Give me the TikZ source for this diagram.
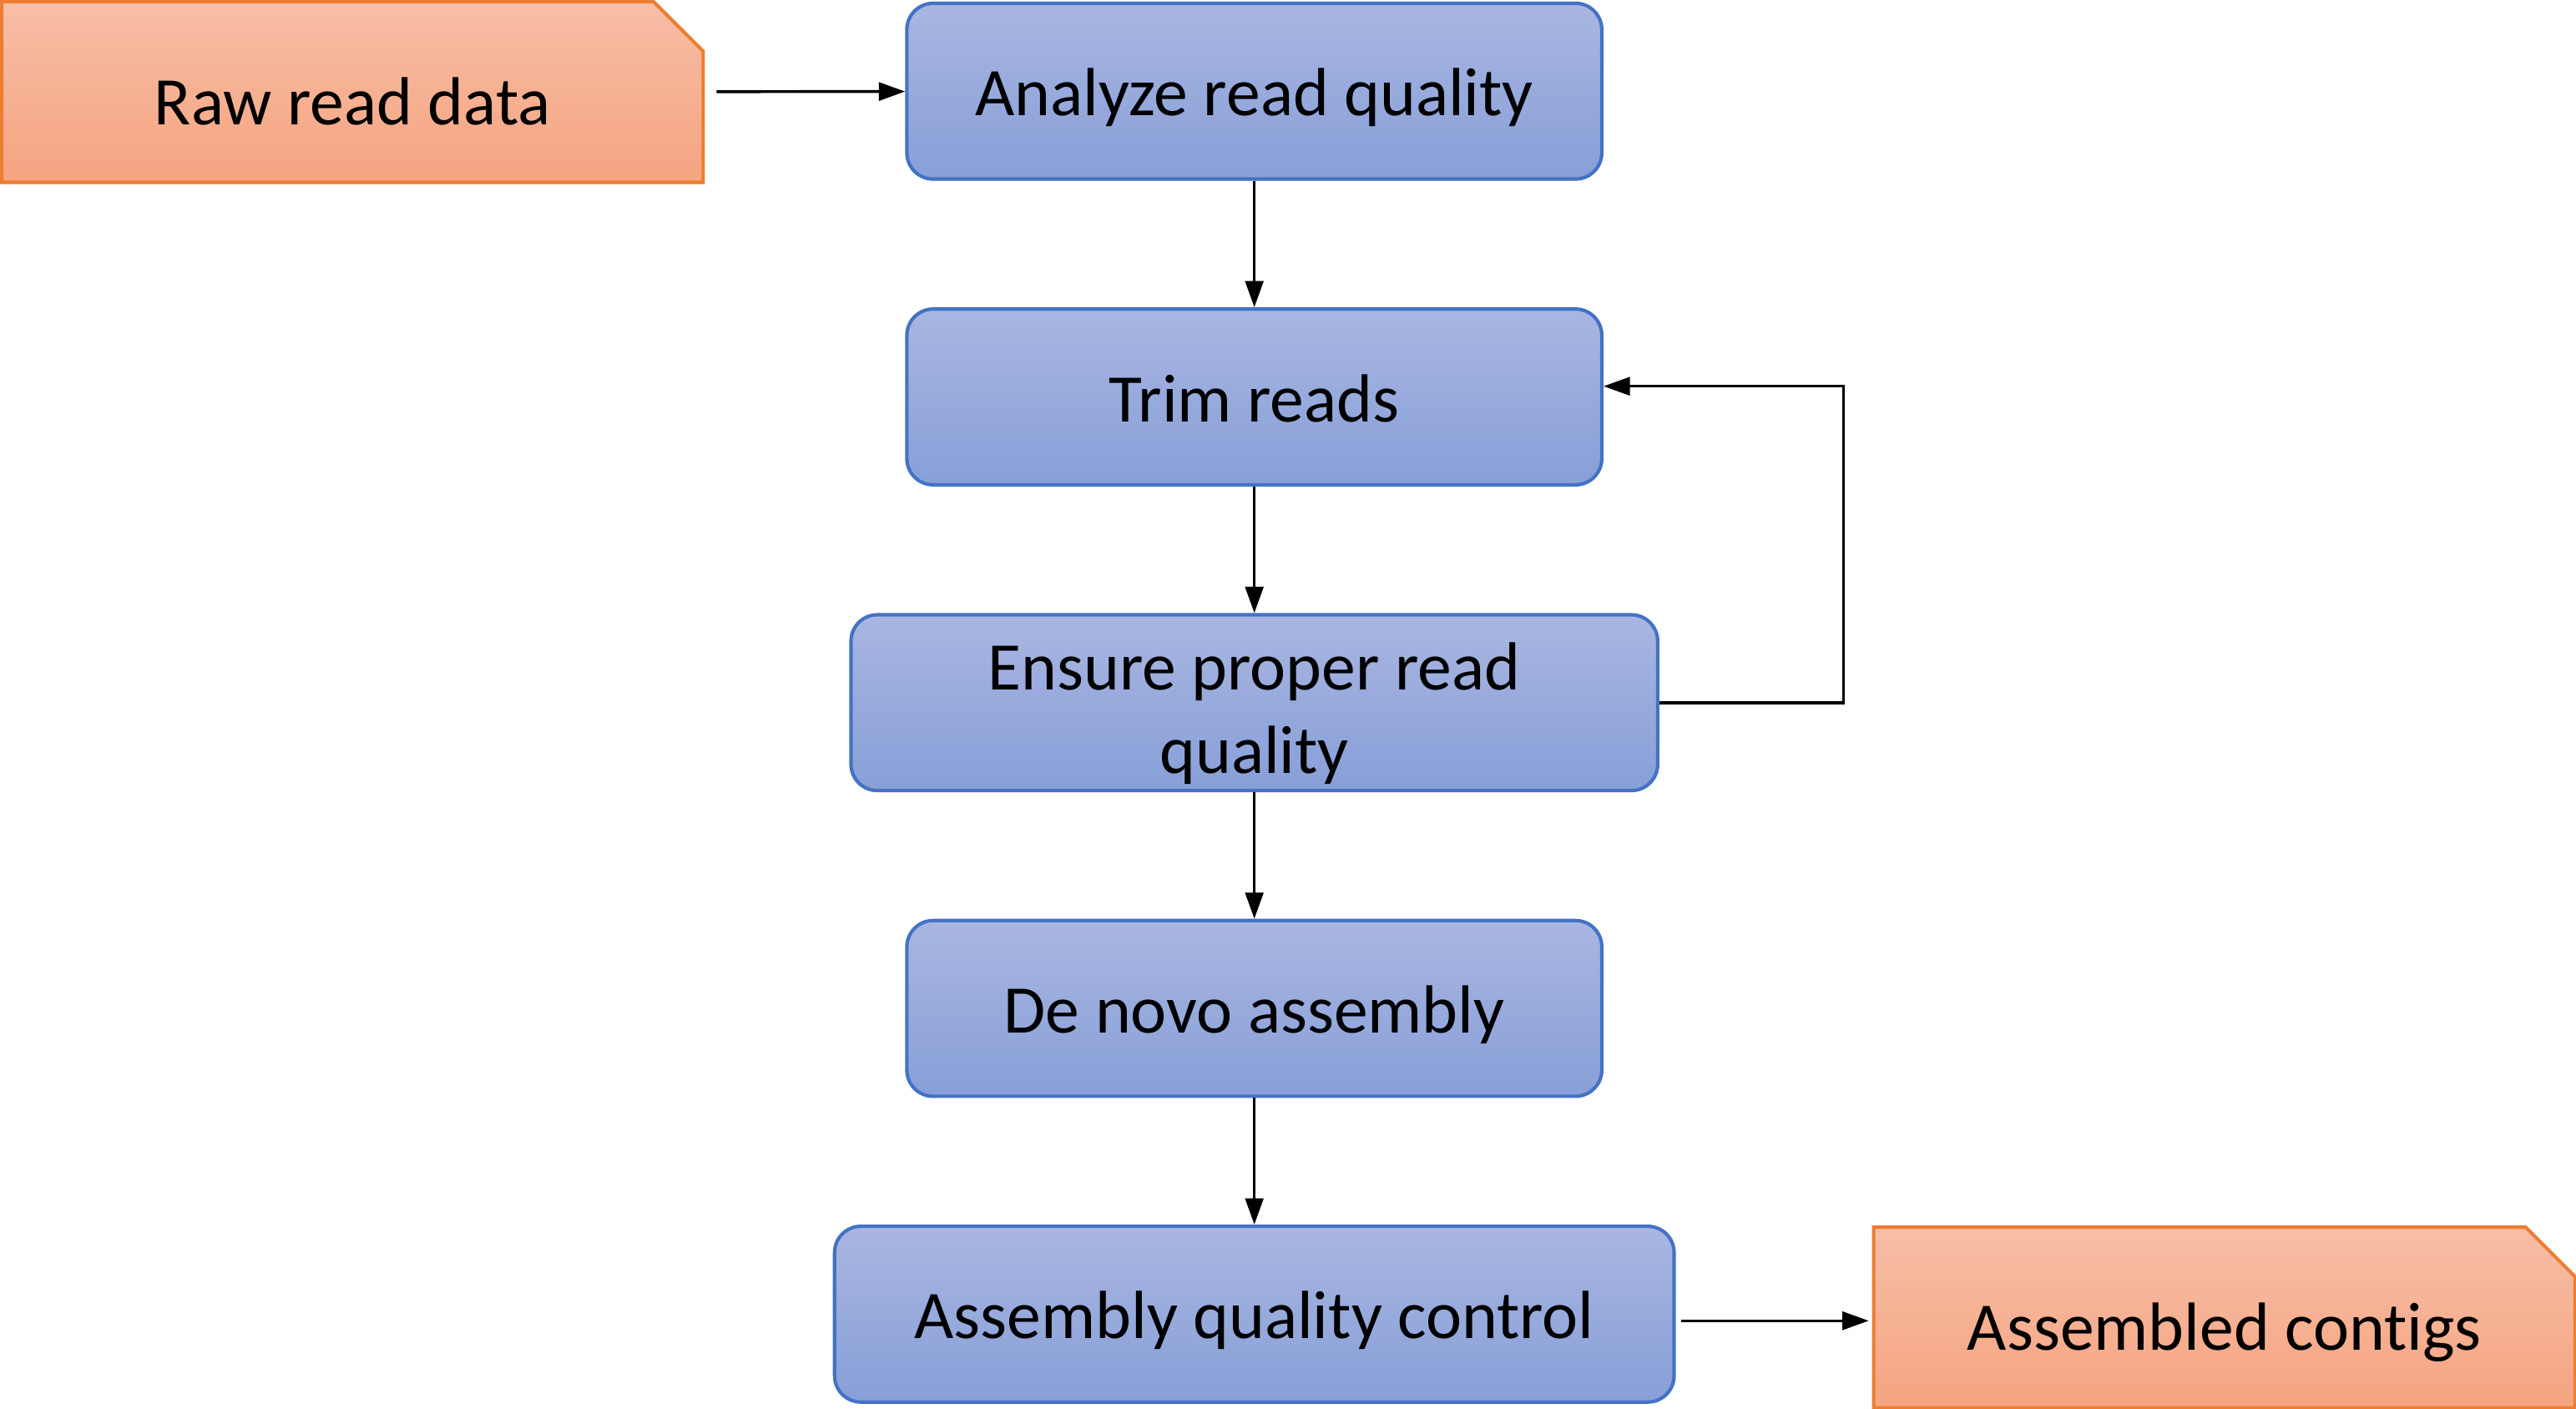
\documentclass[tikz,border=0pt]{standalone}
\usepackage{fontspec}
\setmainfont{Carlito}[Ligatures=NoCommon]
\usetikzlibrary{shapes,arrows.meta,positioning}
\definecolor{bluetop}{RGB}{169,182,225}
\definecolor{bluebot}{RGB}{135,159,216}
\definecolor{blueedge}{RGB}{68,114,196}
\definecolor{orgtop}{RGB}{247,190,167}
\definecolor{orgbot}{RGB}{245,164,128}
\definecolor{orgedge}{RGB}{237,125,49}
\tikzset{
  stage/.style={rectangle,rounded corners=0.16cm,draw=blueedge,line width=0.6pt,
    top color=bluetop,bottom color=bluebot,minimum width=4.23cm,minimum height=1.07cm,
    align=center,inner sep=0pt,font=\fontsize{11.8}{14.4}\selectfont},
  oneline/.style={text height=0.4cm,text depth=0.1cm},
  datafile/.style={chamfered rectangle,chamfered rectangle corners=north east,
    chamfered rectangle xsep=0.19cm,draw=orgedge,line width=0.6pt,
    top color=orgtop,bottom color=orgbot,minimum width=4.27cm,minimum height=1.1cm,
    inner sep=0pt,text height=0.5cm,text depth=0.1cm,font=\fontsize{11.8}{14.4}\selectfont},
  flow/.style={-{Triangle[length=0.16cm,width=0.11cm]},line width=0.5pt}
}

\begin{document}
\begin{tikzpicture}
\useasboundingbox (0,0) rectangle (15.68,-8.576);

  % input and output data
  \node[datafile] (raw) at (2.145,-0.56) {Raw read data\hspace{0.1cm}};
  \node[stage, oneline] (analyze) at (7.635,-0.555) {Analyze read quality};

  % pipeline steps
  \node[stage, oneline, below=0.77cm of analyze] (trim) {Trim reads};
  \node[stage, below=0.77cm of trim, minimum width=4.91cm] (ensure) {\rule{0pt}{0.42cm}Ensure proper read\\quality};
  \node[stage, oneline, below=0.77cm of ensure] (denovo) {De novo assembly};
  \node[stage, oneline, below=0.77cm of denovo, minimum width=5.11cm] (qc) {Assembly quality control};
  \node[datafile] (contigs) at (13.54,-8.02) {Assembled contigs\hspace{0.1cm}};

  \coordinate (loop) at (11.22,0);

  \draw[flow, shorten <=0.07cm] (raw) -- (analyze);
  \draw[flow] (analyze) -- (trim);
  \draw[flow] (trim) -- (ensure);
  \draw[flow] (ensure) -- (denovo);
  \draw[flow] (denovo) -- (qc);
  \draw[flow] (ensure.east) -| (loop |- ensure.east) |- ([yshift=0.065cm]trim.east);
  \draw[flow, shorten <=0.03cm, shorten >=0.02cm] ([yshift=-0.04cm]qc.east) -- ([yshift=-0.04cm]qc.east -| contigs.west);

\end{tikzpicture}
\end{document}
